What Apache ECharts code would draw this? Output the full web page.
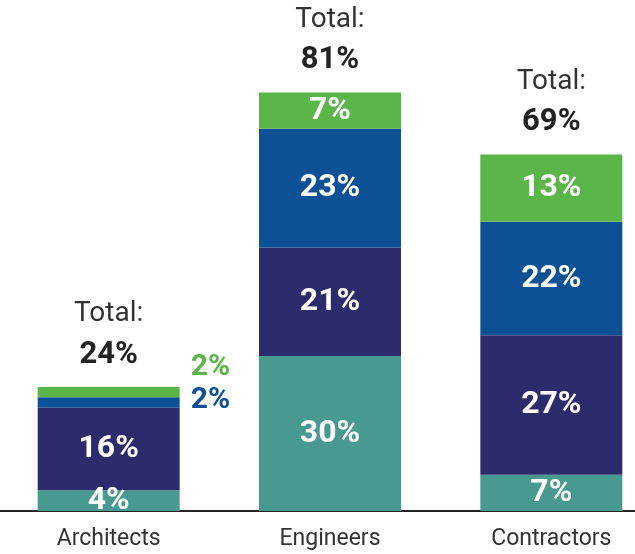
<!DOCTYPE html>
<html>
<head>
<meta charset="utf-8">
<script src="https://cdn.jsdelivr.net/npm/echarts@6/dist/echarts.min.js"></script>
<style>
  html, body { margin: 0; padding: 0; background: #ffffff; }
  #chart { width: 635px; height: 554px; }
</style>
</head>
<body>
<div id="chart"></div>
<script>
// Share of respondents by profession, stacked by segment (percent)
const categories = ['Architects', 'Engineers', 'Contractors'];
const segTeal  = [4, 30, 7];
const segNavy  = [16, 21, 27];
const segBlue  = [2, 23, 22];
const segGreen = [2, 7, 13];

const totals = categories.map((_, i) => segTeal[i] + segNavy[i] + segBlue[i] + segGreen[i]);

const colors = {
  teal: '#489a90',
  navy: '#2c2b6c',
  blue: '#0c5095',
  green: '#5ab649'
};

const FONT = 'Roboto, "Noto Sans", sans-serif';

const innerLabel = {
  show: true,
  position: 'inside',
  color: '#ffffff',
  fontFamily: FONT,
  fontWeight: 'bold',
  fontSize: 32,
  formatter: p => p.value + '%'
};

// Small segments in the first bar are labelled beside the bar instead of inside
function sideLabelData(values, color, offsetY) {
  return values.map((v, i) => {
    if (i === 0) {
      return {
        value: v,
        label: {
          show: true,
          position: 'right',
          distance: 11,
          offset: [0, offsetY],
          color: color,
          fontFamily: FONT,
          fontWeight: 'bold',
          fontSize: 30,
          formatter: p => p.value + '%'
        }
      };
    }
    return v;
  });
}

const chart = echarts.init(document.getElementById('chart'), null, { renderer: 'canvas' });

chart.setOption({
  animation: false,
  backgroundColor: '#ffffff',
  grid: {
    left: -2, width: 664, top: 46, bottom: 43,
    containLabel: false,
    outerBoundsMode: 'none'
  },
  xAxis: {
    type: 'category',
    data: categories,
    axisTick: { show: false },
    axisLine: { lineStyle: { color: '#222222', width: 2 } },
    axisLabel: {
      color: '#333333',
      fontFamily: FONT,
      fontSize: 23,
      margin: 17
    }
  },
  yAxis: {
    type: 'value',
    min: 0,
    max: 90,
    show: false,
    splitLine: { show: false }
  },
  series: [
    {
      name: 'teal', type: 'bar', stack: 'all', barWidth: 142,
      itemStyle: { color: colors.teal },
      label: innerLabel,
      data: segTeal
    },
    {
      name: 'navy', type: 'bar', stack: 'all', barWidth: 142,
      itemStyle: { color: colors.navy },
      label: innerLabel,
      data: segNavy
    },
    {
      name: 'blue', type: 'bar', stack: 'all', barWidth: 142,
      itemStyle: { color: colors.blue },
      label: innerLabel,
      data: sideLabelData(segBlue, colors.blue, -2)
    },
    {
      name: 'green', type: 'bar', stack: 'all', barWidth: 142,
      itemStyle: { color: colors.green },
      label: innerLabel,
      data: sideLabelData(segGreen, colors.green, -25)
    },
    {
      // Totals written above each stack
      name: 'total', type: 'bar', stack: 'all', barWidth: 142,
      itemStyle: { color: 'transparent' },
      silent: true,
      data: totals.map(() => 0),
      label: {
        show: true,
        position: 'top',
        distance: 14,
        align: 'center',
        formatter: p => '{t|Total:}\n{v|' + totals[p.dataIndex] + '%}',
        rich: {
          t: { fontFamily: FONT, fontSize: 28, color: '#333333', lineHeight: 46 },
          v: { fontFamily: FONT, fontSize: 31, fontWeight: 'bold', color: '#222222', lineHeight: 36 }
        }
      }
    }
  ]
});
</script>
</body>
</html>
